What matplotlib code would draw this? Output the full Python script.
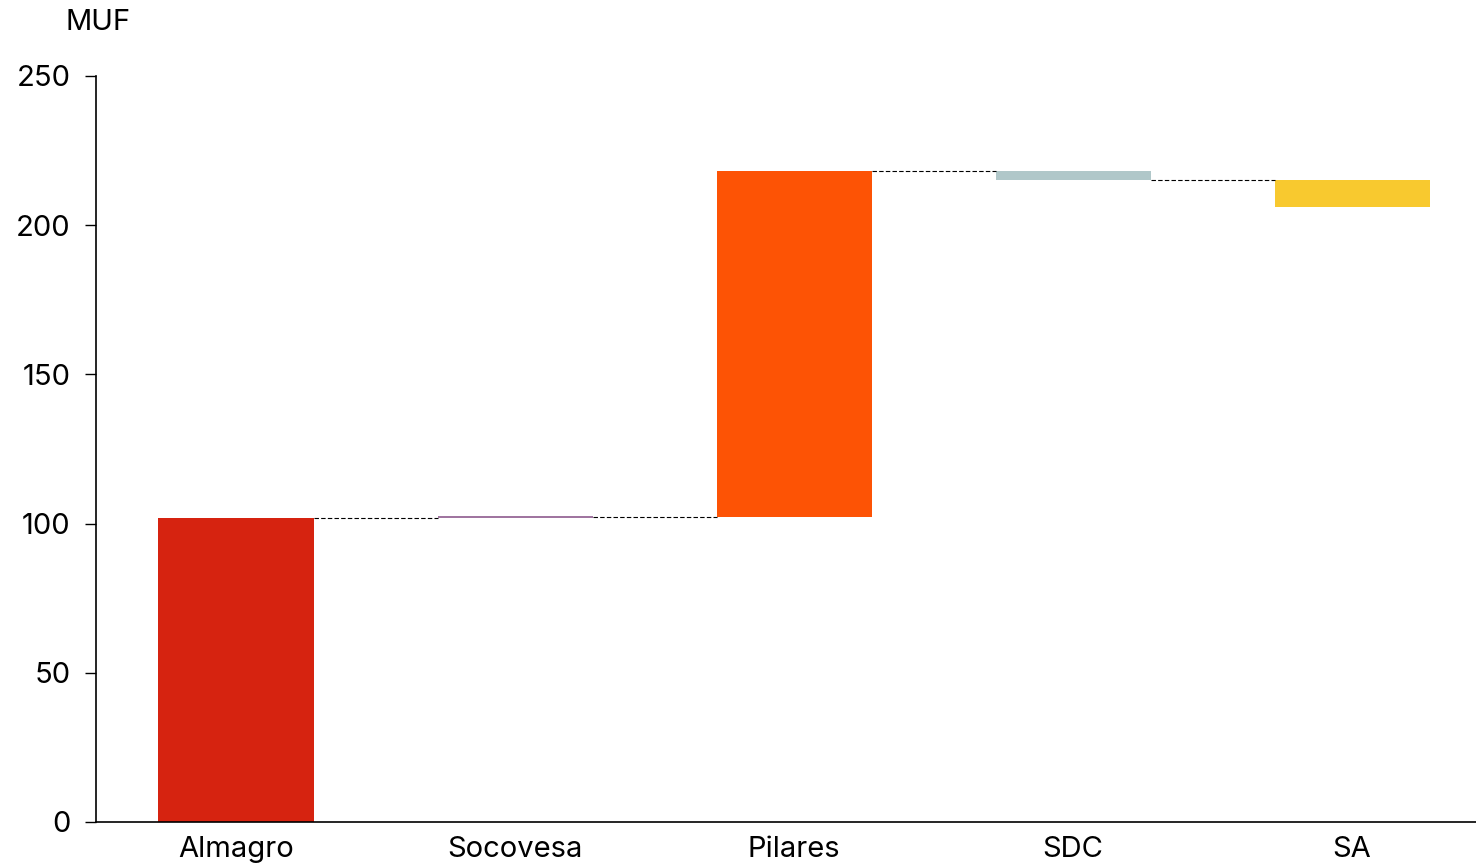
import matplotlib
matplotlib.use("Agg")
import matplotlib.pyplot as plt

categories = ["Almagro", "Socovesa", "Pilares", "SDC", "SA"]
deltas = [101.9, 0.4, 115.9, -3.0, -9.0]
colors = ["#d62310", "#8e5a8e", "#fd5305", "#b0c7c9", "#f8c92f"]
yticks = [0, 50, 100, 150, 200, 250]
unit_label = "MUF"

plt.rcParams['font.family'] = ['Inter', 'DejaVu Sans']

fig = plt.figure(figsize=(14.76, 8.65), dpi=100)
ax = fig.add_axes([96/1476, 1 - 822/865, 1 - 96/1476, (822 - 76)/865])

starts = []
ends = []
cum = 0.0
for d in deltas:
    starts.append(cum)
    cum += d
    ends.append(cum)

width = 0.556
for i, (s, e, c) in enumerate(zip(starts, ends, colors)):
    bottom = min(s, e)
    h = abs(e - s)
    if h < 0.6:
        ax.plot([i - width/2, i + width/2], [e, e], color=c, lw=1.2, solid_capstyle='butt')
    else:
        ax.bar(i, h, bottom=bottom, width=width, color=c, linewidth=0)

for i in range(len(deltas) - 1):
    ax.plot([i + width/2, i + 1 - width/2], [ends[i], ends[i]], color="black",
            lw=0.8, linestyle=(0, (4, 2)))

ax.set_xlim(-0.502, 4.444)
ax.set_ylim(0, 250)
ax.set_yticks(yticks)
ax.set_xticks(range(len(categories)))
ax.set_xticklabels(categories)
ax.tick_params(axis='y', length=8, width=1, labelsize=21, pad=10.5)
ax.tick_params(axis='x', length=0, labelsize=21, pad=10)
for sp in ['top', 'right']:
    ax.spines[sp].set_visible(False)
for sp in ['left', 'bottom']:
    ax.spines[sp].set_linewidth(1.2)

fig.text(65/1476, 1 - 22/865, unit_label, fontsize=21, va='center', ha='left')

fig.savefig("out.png", dpi=100)
